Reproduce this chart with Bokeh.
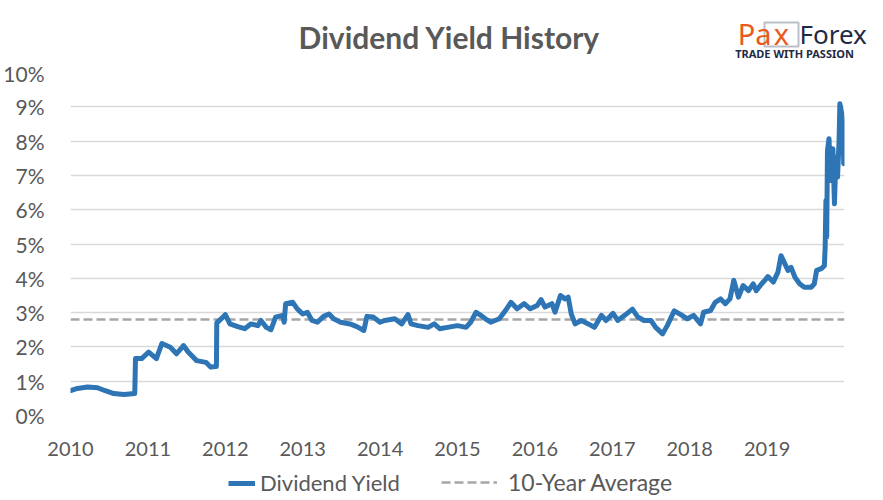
from bokeh.plotting import figure
from bokeh.layouts import column
from bokeh.models import (Legend, LegendItem, Label, BoxAnnotation, FixedTicker,
                          PrintfTickFormatter, Range1d)
from bokeh.embed import file_html
from bokeh.resources import INLINE

# ---- data (decimal year, dividend yield in %) ----
dates = [2010.01, 2010.09, 2010.22, 2010.35, 2010.44, 2010.56, 2010.69, 2010.83, 2010.84,
         2010.92, 2011.01, 2011.11, 2011.18, 2011.29, 2011.37, 2011.46, 2011.52, 2011.63,
         2011.75, 2011.81, 2011.87, 2011.885, 2011.89, 2011.97, 2012.00, 2012.06, 2012.16,
         2012.25, 2012.33, 2012.42, 2012.46, 2012.53, 2012.59, 2012.65, 2012.74, 2012.76,
         2012.78, 2012.87, 2012.93, 2013.00, 2013.06, 2013.12, 2013.19, 2013.27, 2013.34,
         2013.40, 2013.49, 2013.61, 2013.70, 2013.79, 2013.83, 2013.91, 2014.00, 2014.06,
         2014.19, 2014.28, 2014.36, 2014.40, 2014.49, 2014.62, 2014.70, 2014.77, 2014.87,
         2015.00, 2015.11, 2015.17, 2015.24, 2015.30, 2015.36, 2015.43, 2015.54, 2015.62,
         2015.69, 2015.77, 2015.86, 2015.94, 2016.03, 2016.08, 2016.13, 2016.22, 2016.26,
         2016.33, 2016.39, 2016.43, 2016.47, 2016.52, 2016.60, 2016.69, 2016.77, 2016.86,
         2016.92, 2017.01, 2017.07, 2017.16, 2017.26, 2017.33, 2017.41, 2017.50, 2017.56,
         2017.65, 2017.71, 2017.80, 2017.88, 2017.97, 2018.05, 2018.14, 2018.18, 2018.27,
         2018.33, 2018.40, 2018.46, 2018.52, 2018.57, 2018.63, 2018.69, 2018.76, 2018.82,
         2018.86, 2018.93, 2018.97, 2019.01, 2019.08, 2019.14, 2019.18, 2019.23, 2019.27,
         2019.31, 2019.36, 2019.42, 2019.48, 2019.57, 2019.61, 2019.64, 2019.70, 2019.74,
         2019.75, 2019.76, 2019.77, 2019.78, 2019.80, 2019.82, 2019.85, 2019.87, 2019.89,
         2019.91, 2019.93, 2019.94, 2019.965, 2019.98, 2019.99, 2019.995, 2020.00]
yields = [0.73, 0.79, 0.83, 0.81, 0.73, 0.64, 0.61, 0.64, 1.66,
          1.66, 1.85, 1.66, 2.10, 1.99, 1.80, 2.04, 1.85, 1.60,
          1.55, 1.41, 1.43, 1.43, 2.70, 2.87, 2.94, 2.67, 2.59,
          2.53, 2.67, 2.62, 2.77, 2.57, 2.50, 2.87, 2.92, 2.72,
          3.26, 3.30, 3.11, 2.96, 3.01, 2.77, 2.72, 2.89, 2.96,
          2.82, 2.72, 2.67, 2.59, 2.48, 2.89, 2.87, 2.72, 2.77,
          2.82, 2.67, 2.94, 2.67, 2.62, 2.57, 2.67, 2.53, 2.57,
          2.62, 2.57, 2.72, 3.01, 2.92, 2.82, 2.72, 2.82, 3.06,
          3.30, 3.11, 3.26, 3.11, 3.21, 3.38, 3.16, 3.26, 3.01,
          3.50, 3.40, 3.45, 2.96, 2.67, 2.77, 2.67, 2.57, 2.92,
          2.77, 2.98, 2.77, 2.92, 3.10, 2.87, 2.77, 2.77, 2.57,
          2.38, 2.62, 3.05, 2.95, 2.82, 2.92, 2.67, 3.01, 3.06,
          3.30, 3.40, 3.26, 3.40, 3.94, 3.45, 3.79, 3.64, 3.84,
          3.64, 3.84, 3.94, 4.05, 3.89, 4.18, 4.66, 4.42, 4.23,
          4.32, 4.03, 3.84, 3.74, 3.74, 3.84, 4.23, 4.28, 4.37,
          4.90, 6.27, 5.20, 7.73, 8.07, 6.85, 7.78, 6.17, 7.53,
          6.95, 8.02, 9.09, 8.80, 8.50, 7.34, 8.40, 7.35]
average_yield = 2.8
year_ticks = [2010, 2011, 2012, 2013, 2014, 2015, 2016, 2017, 2018, 2019]
pct_ticks = [0, 1, 2, 3, 4, 5, 6, 7, 8, 9, 10]
avg_x = [2010, 2020]
avg_y = [average_yield, average_yield]

FONT = "Lato"
GREY = "#595959"
BLUE = "#2E75B6"
DASH_GREY = "#A6A6A6"
NAVY = "#1F2A44"
ORANGE = "#E8591A"
W = 867


def blank_fig(h):
    f = figure(width=W, height=h, output_backend="svg", toolbar_location=None,
               x_range=Range1d(0, W), y_range=Range1d(0, h),
               min_border=0, min_border_left=0, min_border_right=0,
               min_border_top=0, min_border_bottom=0)
    f.axis.visible = False
    f.grid.visible = False
    f.outline_line_color = None
    f.background_fill_color = "white"
    f.border_fill_color = "white"
    f.frame_align = False
    return f


# ---------- header: title + logo ----------
HH = 60
head = blank_fig(HH)
head.add_layout(Label(x=449, y=HH - 36, x_units="screen", y_units="screen",
                      text="Dividend Yield History", text_font=FONT, text_font_style="bold",
                      text_font_size="30px", text_color=GREY, text_align="center",
                      text_baseline="middle"))
logo_y = HH - 33
head.add_layout(BoxAnnotation(left=764, right=798, bottom=HH - 46, top=HH - 22,
                              left_units="screen", right_units="screen",
                              bottom_units="screen", top_units="screen",
                              fill_alpha=0, line_color=NAVY, line_width=2))
head.add_layout(Label(x=771, y=logo_y, x_units="screen", y_units="screen", text="Pa",
                      text_font="Noto Sans", text_font_size="29px", text_color=ORANGE,
                      text_align="right", text_baseline="middle"))
head.add_layout(Label(x=781, y=logo_y, x_units="screen", y_units="screen", text="x",
                      text_font="Noto Sans", text_font_size="29px", text_color=ORANGE,
                      text_align="center", text_baseline="middle"))
head.add_layout(Label(x=799, y=logo_y, x_units="screen", y_units="screen", text="Forex",
                      text_font="Noto Sans", text_font_size="26px", text_color=NAVY,
                      text_align="left", text_baseline="middle"))
head.add_layout(Label(x=794, y=HH - 53, x_units="screen", y_units="screen",
                      text="TRADE WITH PASSION", text_font="Noto Sans", text_font_style="bold",
                      text_font_size="11px", text_color=NAVY, text_align="center",
                      text_baseline="middle"))

# ---------- main chart ----------
p = figure(width=W, height=406, output_backend="svg", toolbar_location=None,
           x_range=Range1d(2010, 2020), y_range=Range1d(0, 10),
           min_border_left=63, min_border_right=23, min_border_top=12, min_border_bottom=51)
p.outline_line_color = None
p.background_fill_color = "white"
p.border_fill_color = "white"

p.xgrid.grid_line_color = None
p.ygrid.grid_line_color = "#D9D9D9"
p.ygrid.grid_line_width = 1.3

p.yaxis.ticker = FixedTicker(ticks=pct_ticks)
p.yaxis.formatter = PrintfTickFormatter(format="%d%%")
p.xaxis.ticker = FixedTicker(ticks=year_ticks)
for ax in (p.xaxis, p.yaxis):
    ax.axis_line_color = None
    ax.major_tick_line_color = None
    ax.minor_tick_line_color = None
    ax.major_tick_out = 0
    ax.major_tick_in = 0
    ax.major_label_text_color = GREY
    ax.major_label_text_font = FONT
    ax.major_label_text_font_size = "21px"
p.yaxis.major_label_standoff = 26
p.xaxis.major_label_standoff = 26
p.xaxis.major_label_text_font_size = "20px"

p.line(avg_x, avg_y, line_color=DASH_GREY, line_width=2.6, line_dash="9 4")
p.line(dates, yields, line_color=BLUE, line_width=5, line_join="round", line_cap="round")

# ---------- footer: legend (proxy glyphs carrying the same styles) ----------
FH = 30
foot = blank_fig(FH)
k_div = foot.line([-10], [-10], line_color=BLUE, line_width=5)
k_avg = foot.line([-10], [-10], line_color=DASH_GREY, line_width=2.6, line_dash="9 4")


def mk_legend(item, x, gw, standoff, size):
    lg = Legend(items=[item], location=(x, 0), orientation="horizontal",
                glyph_width=gw, glyph_height=20, label_height=20, label_standoff=standoff,
                padding=0, margin=0, spacing=0, border_line_color=None,
                background_fill_alpha=0, label_text_font=FONT,
                label_text_font_size=size, label_text_color=GREY,
                label_text_baseline="middle")
    foot.add_layout(lg, "center")


mk_legend(LegendItem(label="Dividend Yield", renderers=[k_div]), 228, 27, 5, "22px")
mk_legend(LegendItem(label="10-Year Average", renderers=[k_avg]), 441, 56, 11, "23px")

layout = column(head, p, foot, spacing=0)
open("out.html", "w").write(file_html(layout, INLINE))
